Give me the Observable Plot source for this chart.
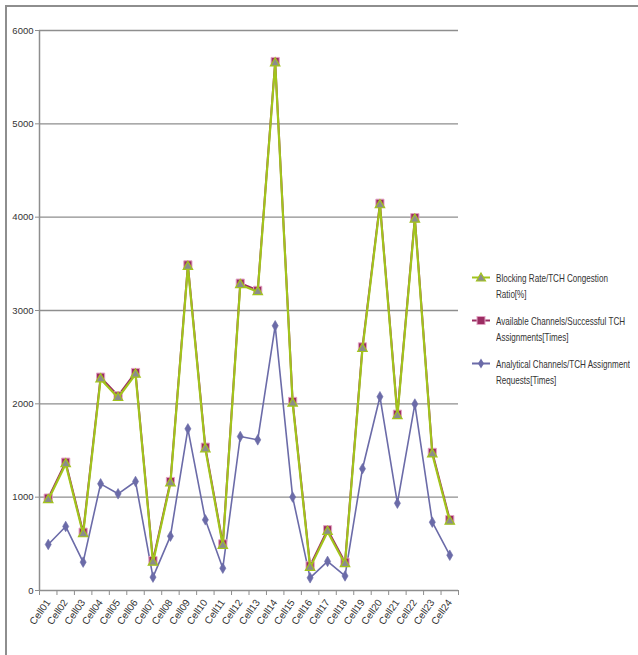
<!DOCTYPE html>
<html>
<head>
<meta charset="utf-8">
<script src="https://cdn.jsdelivr.net/npm/d3@7"></script>
<script src="https://cdn.jsdelivr.net/npm/@observablehq/plot@0.6"></script>
<style>
  html, body { margin: 0; padding: 0; background: #fff; overflow: hidden; }
  #wrap { position: relative; width: 638px; height: 655px; overflow: hidden;
          font-family: "Liberation Sans", Arial, sans-serif; }
  #frame { position: absolute; left: 5px; top: 5px; width: 700px; height: 700px;
           border: 2px solid #8e8e8e; box-sizing: border-box; pointer-events: none; }
  #chart { position: absolute; left: 0; top: 0; }
  #legend { position: absolute; left: 472px; top: 270px; width: 164px; font-size: 10.5px; color: #333; }
  .item { position: relative; padding-left: 24px; line-height: 16px; margin-bottom: 11px; white-space: nowrap; }
  .item svg { position: absolute; left: 0; top: 0; }
  .item .txt { transform: scaleX(0.77); transform-origin: left center; }
</style>
</head>
<body>
<div id="wrap">
  <div id="chart"></div>
  <div id="legend"></div>
  <div id="frame"></div>
</div>
<script>
// Categories (cells) and the three series plotted per cell
const cells = ["Cell01","Cell02","Cell03","Cell04","Cell05","Cell06","Cell07","Cell08",
  "Cell09","Cell10","Cell11","Cell12","Cell13","Cell14","Cell15","Cell16",
  "Cell17","Cell18","Cell19","Cell20","Cell21","Cell22","Cell23","Cell24"];

const blockingRate = [970,1355,605,2265,2065,2315,300,1150,3470,1515,480,3275,
  3200,5650,2005,245,630,285,2590,4130,1870,3975,1460,740];

const availableChannels = [990,1375,625,2286,2086,2336,321,1168,3489,1536,500,3293,
  3216,5668,2026,265,651,304,2610,4149,1889,3995,1480,760];

const analyticalChannels = [493,686,304,1143,1036,1168,143,582,1732,757,239,1650,
  1614,2836,1001,136,312,156,1305,2076,935,1998,732,378];

const yTicks = [0,1000,2000,3000,4000,5000,6000];

const seriesNames = [
  "Blocking Rate/TCH Congestion Ratio[%]",
  "Available Channels/Successful TCH Assignments[Times]",
  "Analytical Channels/TCH Assignment Requests[Times]"
];

// Category i sits in the middle of slot [i, i+1]
const rows = cells.map((c, i) => ({
  cell: c, pos: i + 0.5,
  blocking: blockingRate[i], available: availableChannels[i], analytical: analyticalChannels[i]
}));

const green = "#a2c41c", gray = "#8c8c8c", maroon = "#9b2d62", pink = "#e3a3c4", slate = "#6b6ba8";
const axisGray = "#8e8e8e";

const chart = Plot.plot({
  width: 638,
  height: 655,
  marginLeft: 39,
  marginRight: 180,
  marginTop: 30,
  marginBottom: 65,
  style: { fontFamily: "'Liberation Sans', Arial, sans-serif", fontSize: "10px", color: "#333", background: "transparent" },
  x: { domain: [0, cells.length], label: null },
  y: { domain: [0, 6000], label: null },
  marks: [
    Plot.gridY(yTicks.filter(d => d > 0), { stroke: axisGray, strokeOpacity: 1, strokeWidth: 1.3 }),
    Plot.ruleY([0], { stroke: axisGray, strokeWidth: 1.5 }),
    Plot.ruleX([0], { stroke: axisGray, strokeWidth: 1.5 }),
    Plot.axisY({ ticks: yTicks, tickSize: 4, tickPadding: 2, stroke: axisGray, fontSize: 9.5, tickFormat: d => String(d) }),
    // tick marks between categories
    Plot.axisX({ ticks: d3.range(cells.length + 1), tickSize: 5, stroke: axisGray, tickFormat: () => "" }),
    // category labels
    Plot.axisX({ ticks: rows.map(r => r.pos), tickSize: 0, tickPadding: 10, tickRotate: -55,
      fontSize: 10, tickFormat: d => cells[Math.floor(d)] }),
    // Analytical Channels
    Plot.line(rows, { x: "pos", y: "analytical", stroke: slate, strokeWidth: 1.6 }),
    Plot.dot(rows, { x: "pos", y: "analytical", symbol: "diamond", r: 3.2, fill: slate, stroke: slate, strokeWidth: 0.6 }),
    // Available Channels
    Plot.line(rows, { x: "pos", y: "available", stroke: maroon, strokeWidth: 2 }),
    Plot.dot(rows, { x: "pos", y: "available", symbol: "square", r: 4.6, fill: maroon, stroke: pink, strokeWidth: 1 }),
    // Blocking Rate
    Plot.line(rows, { x: "pos", y: "blocking", stroke: green, strokeWidth: 2.2 }),
    Plot.dot(rows, { x: "pos", y: "blocking", symbol: "triangle", r: 3.5, fill: gray, stroke: green, strokeWidth: 1.2 })
  ]
});
document.getElementById("chart").appendChild(chart);

// Legend: line + marker swatch, wrapped label
const swatches = [
  { color: green, marker: `<path d="M9,3 L13.5,11 L4.5,11 Z" fill="${gray}" stroke="${green}" stroke-width="1.2"/>` },
  { color: maroon, marker: `<rect x="5" y="3.5" width="8" height="8" fill="${maroon}" stroke="${pink}" stroke-width="1"/>` },
  { color: slate, marker: `<path d="M9,2.5 L12,7.5 L9,12.5 L6,7.5 Z" fill="${slate}"/>` }
];
const labelLines = [
  ["Blocking Rate/TCH Congestion", "Ratio[%]"],
  ["Available Channels/Successful TCH", "Assignments[Times]"],
  ["Analytical Channels/TCH Assignment", "Requests[Times]"]
];
const legend = document.getElementById("legend");
seriesNames.forEach((name, i) => {
  const item = document.createElement("div");
  item.className = "item";
  item.title = name;
  item.innerHTML = `<svg width="20" height="16"><line x1="0" x2="18" y1="7.5" y2="7.5" stroke="${swatches[i].color}" stroke-width="2"/>${swatches[i].marker}</svg>` +
    labelLines[i].map(t => `<div class="txt">${t}</div>`).join("");
  legend.appendChild(item);
});
</script>
</body>
</html>
